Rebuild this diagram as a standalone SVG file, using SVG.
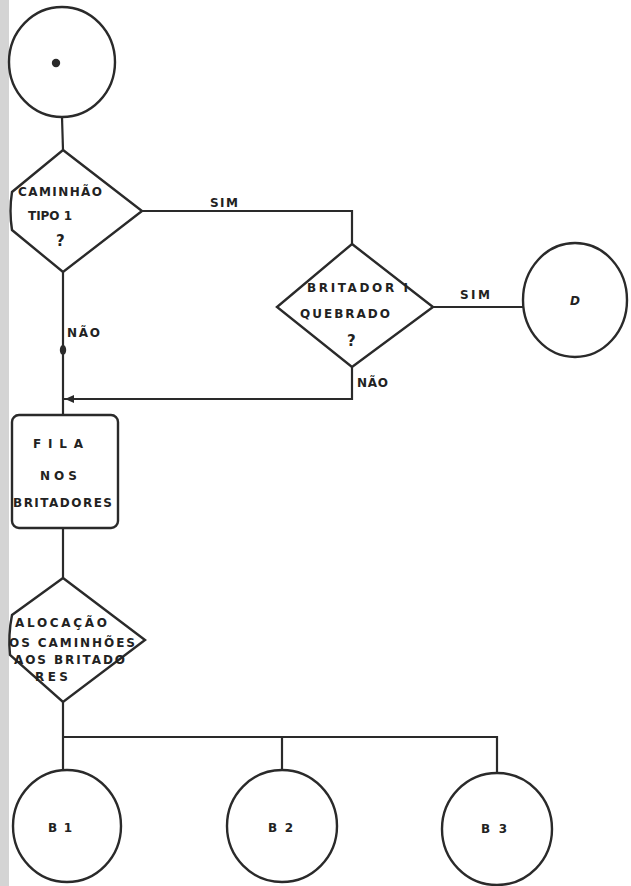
<svg xmlns="http://www.w3.org/2000/svg" width="631" height="886" viewBox="0 0 631 886">
<defs>
<style>
.shape{fill:none;stroke:#2a2a2a;stroke-width:2.4}
.line{fill:none;stroke:#2a2a2a;stroke-width:2.2}
.t{font-family:"DejaVu Sans","Liberation Sans",Arial,sans-serif;font-weight:bold;font-size:12px;fill:#222}
.q{font-family:"DejaVu Sans","Liberation Sans",Arial,sans-serif;font-weight:bold;font-size:15px;fill:#222}
.ah{fill:#2a2a2a}
</style>
</defs>
<rect x="0" y="0" width="631" height="886" fill="#ffffff"/>
<rect x="0" y="0" width="9" height="886" fill="#d4d4d4"/>

<g id="connectors">
<line class="line" x1="62" y1="117" x2="63" y2="150"/>
<polyline class="line" points="142,211 352,211 352,244"/>
<line class="line" x1="433" y1="307" x2="523" y2="307"/>
<line class="line" x1="63" y1="272" x2="63" y2="415"/>
<polyline class="line" points="352,367 352,399 63,399"/>
<line class="line" x1="63" y1="528" x2="63" y2="578"/>
<line class="line" x1="63" y1="702" x2="63" y2="770"/>
<polyline class="line" points="63,737 497,737 497,773"/>
<line class="line" x1="282" y1="737" x2="282" y2="770"/>
<ellipse class="ah" cx="63" cy="350" rx="3.2" ry="5"/>
<polygon class="ah" points="65,399 74,395 74,403"/>
<text class="t" x="210" y="207" textLength="28" lengthAdjust="spacing">SIM</text>
<text class="t" x="460" y="299" textLength="30" lengthAdjust="spacing">SIM</text>
<text class="t" x="67" y="337" textLength="33" lengthAdjust="spacing">NÃO</text>
<text class="t" x="357" y="387" textLength="31" lengthAdjust="spacing">NÃO</text>
</g>

<g id="start-circle">
<ellipse class="shape" cx="62" cy="62" rx="53" ry="55"/>
<circle class="ah" cx="56" cy="63" r="4.2"/>
</g>

<g id="decision-caminhao">
<path class="shape" d="M63,150 L142,211 L63,272 L12,230 Q9,211 12,192 Z"/>
<text class="t" x="18" y="196" textLength="84" lengthAdjust="spacing">CAMINHÃO</text>
<text class="t" x="28" y="220" textLength="44" lengthAdjust="spacing">TIPO 1</text>
<text class="q" x="56" y="246">?</text>
</g>

<g id="decision-britador">
<polygon class="shape" points="352,244 433,307 352,367 277,307"/>
<text class="t" x="307" y="292" textLength="101" lengthAdjust="spacing">BRITADOR I</text>
<text class="t" x="300" y="318" textLength="90" lengthAdjust="spacing">QUEBRADO</text>
<text class="q" x="347" y="346">?</text>
</g>

<g id="circle-d">
<ellipse class="shape" cx="575" cy="300" rx="52" ry="57"/>
<text class="t" x="575" y="305" text-anchor="middle" font-style="italic">D</text>
</g>

<g id="fila">
<rect class="shape" x="12" y="415" width="106" height="113" rx="7" ry="7"/>
<text class="t" x="33" y="448" textLength="50" lengthAdjust="spacing">FILA</text>
<text class="t" x="40" y="480" textLength="37" lengthAdjust="spacing">NOS</text>
<text class="t" x="13" y="507" textLength="99" lengthAdjust="spacing">BRITADORES</text>
</g>

<g id="decision-alocacao">
<path class="shape" d="M63,578 L145,640 L63,702 L10,655 Q8,635 12,615 Z"/>
<text class="t" x="15" y="627" textLength="92" lengthAdjust="spacing">ALOCAÇÃO</text>
<text class="t" x="9" y="647" textLength="126" lengthAdjust="spacing">OS CAMINHÕES</text>
<text class="t" x="14" y="664" textLength="111" lengthAdjust="spacing">AOS BRITADO</text>
<text class="t" x="35" y="681" textLength="33" lengthAdjust="spacing">RES</text>
</g>

<g id="b1">
<ellipse class="shape" cx="67" cy="826" rx="54" ry="56"/>
<text class="t" x="48" y="832" textLength="24" lengthAdjust="spacing">B1</text>
</g>
<g id="b2">
<ellipse class="shape" cx="282" cy="826" rx="55" ry="56"/>
<text class="t" x="268" y="832" textLength="25" lengthAdjust="spacing">B2</text>
</g>
<g id="b3">
<ellipse class="shape" cx="497" cy="829" rx="55" ry="56"/>
<text class="t" x="481" y="833" textLength="26" lengthAdjust="spacing">B3</text>
</g>
</svg>
